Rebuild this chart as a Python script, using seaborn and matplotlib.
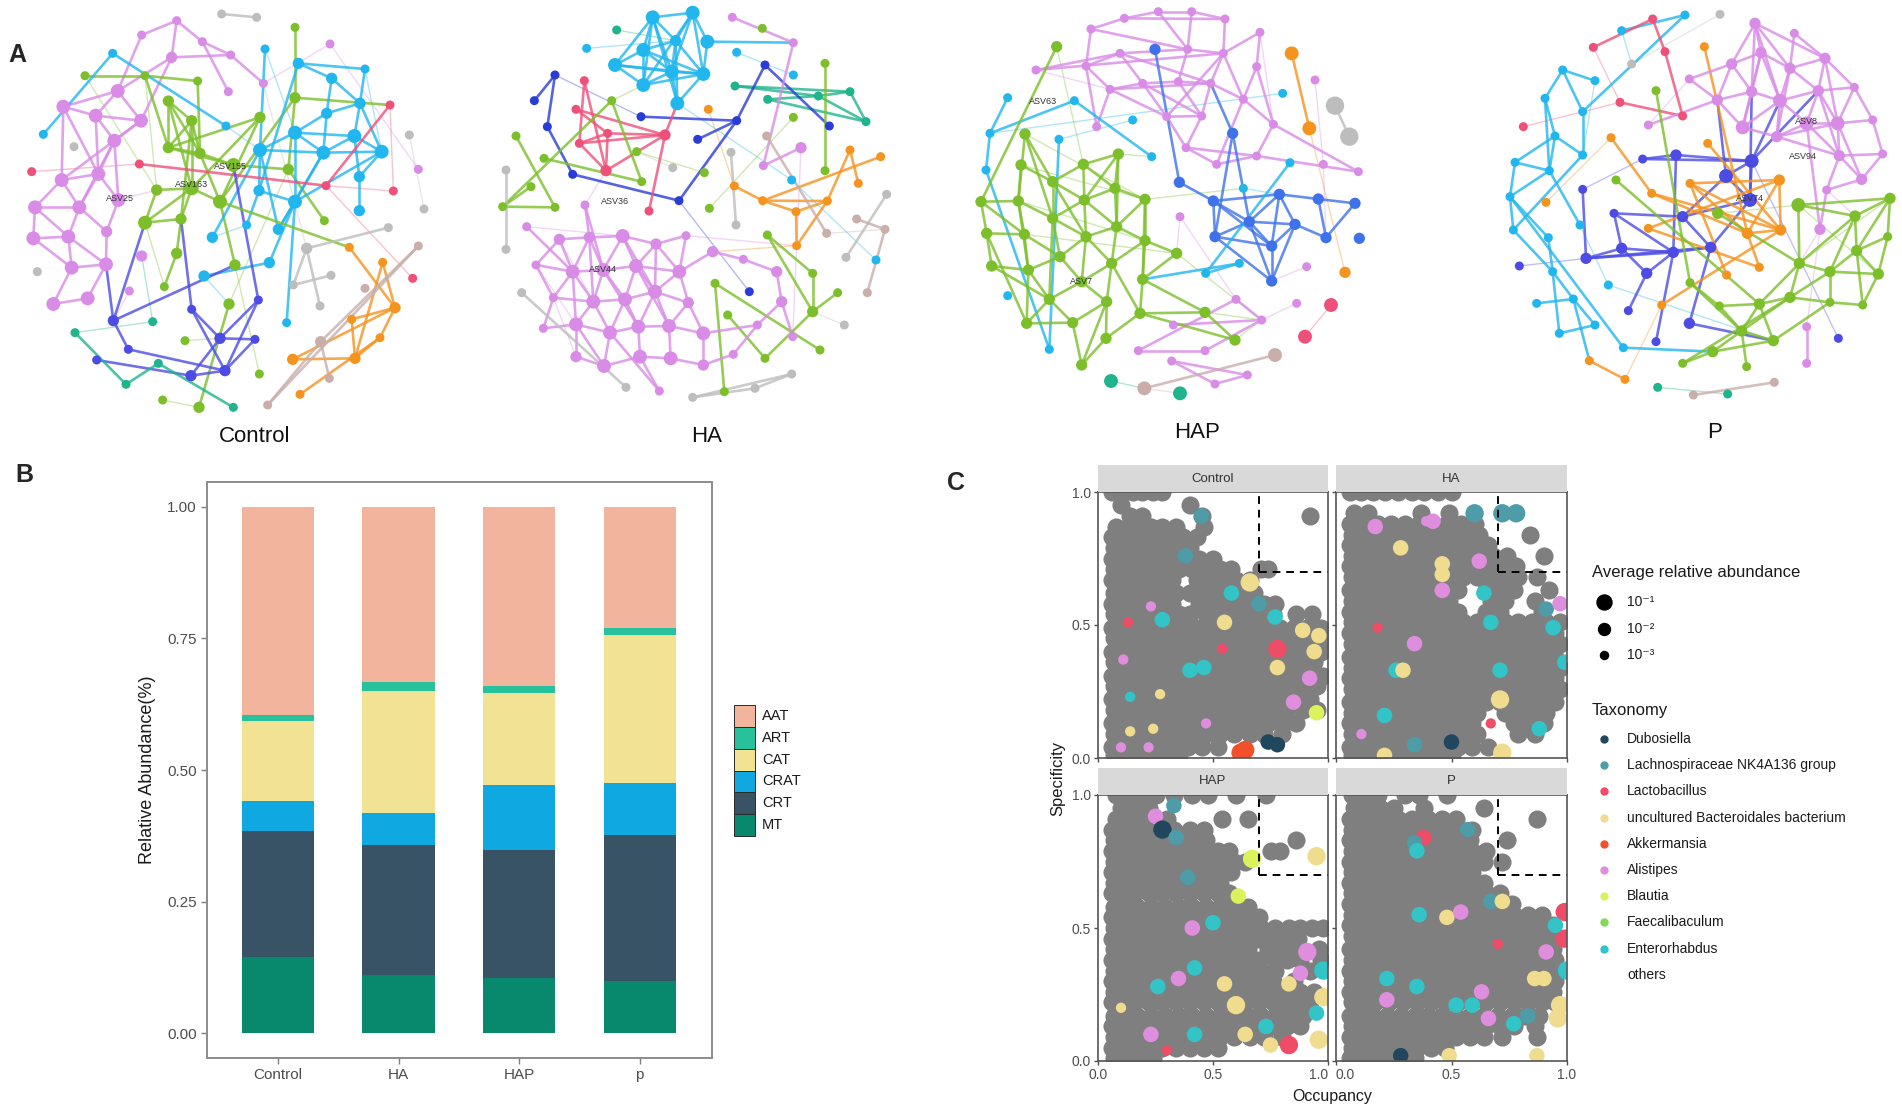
import pandas as pd
import seaborn as sns
import matplotlib.pyplot as plt
from matplotlib.collections import LineCollection
from matplotlib.patches import Rectangle
from matplotlib.lines import Line2D

# ---------------- panel B: stacked relative abundance ----------------
groups = ["Control", "HA", "HAP", "p"]
types = ["AAT", "ART", "CAT", "CRAT", "CRT", "MT"]
aat = [0.395, 0.333, 0.340, 0.231]
art = [0.012, 0.017, 0.014, 0.013]
cat = [0.152, 0.232, 0.174, 0.280]
crat = [0.057, 0.061, 0.125, 0.099]
crt = [0.239, 0.247, 0.242, 0.278]
mt = [0.145, 0.110, 0.105, 0.099]
type_colors = ["#F2B49C", "#27C29C", "#F2E394", "#10A8E0", "#385266", "#08896E"]

# ---------------- panel C: occupancy / specificity ----------------
taxa_codes = {
    "D": "Dubosiella",
    "L": "Lachnospiraceae NK4A136 group",
    "A": "Lactobacillus",
    "U": "uncultured Bacteroidales bacterium",
    "K": "Akkermansia",
    "S": "Alistipes",
    "B": "Blautia",
    "F": "Faecalibaculum",
    "E": "Enterorhabdus",
}
taxa_colors = {
    "Dubosiella": "#21475E",
    "Lachnospiraceae NK4A136 group": "#4E9CA8",
    "Lactobacillus": "#EF4C68",
    "uncultured Bacteroidales bacterium": "#F0DC8E",
    "Akkermansia": "#F2502A",
    "Alistipes": "#DE8EDC",
    "Blautia": "#DCF25C",
    "Faecalibaculum": "#80DB55",
    "Enterorhabdus": "#33C4C8",
}
abund_labels = ["10⁻¹", "10⁻²", "10⁻³"]
facets = ["Control", "HA", "HAP", "P"]

# "others" ASVs, one line per specificity level (percent): occupancy values (percent)
control_grey = """
100: 6 10 15 19 24 28
95: 10 40
91: 14 19 45 92
87: 8 13 18 23 28 34 46
83: 6 11 16 21 26 31 37 43
79: 7 12 18 23 29 34 40
75: 6 11 16 22 27 33 38 44 50
71: 7 12 17 23 29 35 41 47 53 58 71 74
67: 6 11 16 22 27 32 43 49 55 60 66
62: 7 12 18 23 29 34 40 46 52 58 63 68
58: 6 11 16 22 27 32 44 50 55 61 66 72 77
54: 7 12 17 23 29 35 40 47 53 58 64 70 76 86 93
49: 6 11 16 21 27 33 38 44 50 56 62 67 73 79 85 91 97
45: 7 12 18 24 30 35 41 47 53 59 64 70 76 82 88 94 99
40: 6 11 16 22 27 33 39 44 50 56 61 67 73 79 85 91 97
36: 7 12 17 23 29 35 41 47 52 58 64 70 76 82 88 94
31: 6 11 16 21 27 33 38 44 50 56 62 68 74 80 86 92 98
27: 7 12 18 24 30 35 41 47 53 59 65 71 77 83 89 95
22: 6 11 16 22 27 33 39 45 51 57 63 68 74 80 86 92
18: 7 12 17 23 29 35 41 47 52 58 64 70 76 82 89 95
13: 6 11 16 21 27 33 38 44 50 56 62 68 74 80 86
9: 7 12 18 24 30 35 41 47 53 59 66 72 80
4: 6 11 16 22 27 33 39 45 52
1: 7 12 18 24 29 35
"""
ha_grey = """
100: 6 11 16 21 27 33 38 44 50
92: 8 14 37 49
88: 6 12 18 24 30 36 42 48 54 60
84: 7 13 19 25 31 37 44 50 56 62 84
80: 6 11 17 23 29 35 41 47 54 60 66
76: 7 13 19 25 31 37 43 49 55 62 68 74 90
72: 6 11 17 23 29 35 41 47 53 59 66 72 78
68: 7 13 19 25 31 37 43 49 55 61 67 73 79 87
63: 6 11 17 23 29 35 41 47 53 65 71 77 92
59: 7 13 19 25 31 37 43 49 67 73 86
55: 6 11 17 23 29 35 41 47 53 65 71 89
51: 7 13 19 25 31 37 43 49 55 61 67 73 79 85 91 97
47: 6 11 17 23 29 35 41 47 53 59 65 71 77 83 89 95
43: 7 13 19 25 31 37 43 49 55 61 67 73 79 85 91 97
38: 6 11 17 23 29 35 41 47 53 59 65 71 77 83 89 95
34: 7 13 19 25 31 37 43 49 55 61 67 73 79 85 91 97
30: 6 11 17 23 29 35 41 47 53 59 65 71 77 83 89 95
26: 7 13 19 25 31 37 43 49 55 61 67 73 79 85 91 97
21: 6 11 17 23 29 35 41 47 53 59 65 71 77 83 89 95
17: 7 13 19 25 31 37 43 49 55 61 73 79 85 91
13: 6 11 17 23 29 35 41 47 53 59 77 83 90
9: 7 13 19 25 31 37 43 49 55 61 79 86
4: 6 11 17 23 29 35 41 47 53 59 66
1: 7 13 19 25 31 37 44 50
"""
hap_grey = """
100: 8 13 19 25 33 41 48 60 73
95: 10 16 22
91: 8 13 18 24 30 54 65
87: 6 11 16 21 27 33 40 46
83: 7 12 17 23 29 35 41 47 86
79: 6 11 16 22 28 34 40 46 52 57 75 79
75: 7 12 17 23 29 35 41 47 53 59 64
71: 6 11 16 22 28 34 40 46 52 58
67: 7 12 17 23 29 35 41 47 53
63: 6 11 16 22 28 34 40 46 52 57
58: 7 12 17 23 29 35 41 47 53 59 65
54: 6 11 16 22 28 34 40 46 52 58 64 70
50: 7 12 17 23 29 35 41 47 53 59 65 71 77 83 88 93 98
46: 6 11 16 22 28 34 40 46 52 58 64 70 76 81 87
42: 7 12 17 23 29 35 41 47 53 59 65 74 80 86 96
38: 6 11 16 22 28 34 40 46 52 58 64 70 77 82 88 97
34: 7 12 17 23 29 35 41 47 53 59 65 71 77 92
30: 6 11 16 22 28 34 40 46 52 58 64 70 76 85
26: 7 12 17 23 29 35 41 47 53 59 65 71 77 82 88 94
22: 6 11 16 22 28 34 40 46 52 58 64 70 76 81 87 92
17: 7 12 17 23 29 35 41 47 53 59 65 71 77 83 89
13: 6 11 16 22 28 34 40 46 52 58 64 70 76 82 88
9: 7 12 17 23 29 35 41 47 53 59 66 72 80
5: 6 11 16 22 28 34 40 46 52
1: 7 12 18 24
"""
p_grey = """
100: 7 12 18 30 36 48
95: 8 13 19 25 38 64
91: 6 11 16 21 27 33 40 46 52 87
87: 7 12 17 23 29 35 41 47 53 59
83: 6 11 16 22 28 34 40 46 52 58 74
79: 7 12 17 23 29 35 41 47 53 59 65
75: 6 11 16 22 28 34 40 46 52 58 64 72
71: 7 12 17 23 29 35 41 47 53 59
67: 6 11 16 22 28 34 40 46 52 58 64
63: 7 12 17 23 29 35 41 47 53 59 65 71
59: 6 11 16 22 28 34 40 46 52 58 64 70 76
55: 7 12 17 23 29 35 41 47 53 59 65 71 77 83 89
51: 6 11 16 22 28 34 40 46 52 58 64 70 76 82 88 94
47: 7 12 17 23 29 35 41 47 53 59 65 71 77 83 89 95
42: 6 11 16 22 28 34 40 46 52 58 64 70 76 82 88 94
38: 7 12 17 23 29 35 41 47 53 59 65 71 77 83 89 95
34: 6 11 16 22 28 34 40 46 52 58 64 70 76 82 88 94
30: 7 12 17 23 29 35 41 47 53 59 65 71 77 83 89 95
26: 6 11 16 22 28 34 40 46 52 58 64 70 76 82 88 94
22: 7 12 17 23 29 35 41 47 53 59 65 71 77 83 89 95
17: 6 11 16 22 28 34 40 46 52 58 64 70 76 82 88
13: 7 12 17 23 29 35 41 47 53 59 65 71 77 86
9: 6 11 16 22 28 34 40 46 52 58 64 72 87
5: 7 12 17 23 29 35 41 47
1: 6 11 16 22 28 34
"""

# named taxa: code, occupancy %, specificity %, abundance class (3 = 10^-1 ... 1 = 10^-3)
control_taxa = """
L 45 91 2
L 38 76 2
E 28 52 2
A 13 51 1
S 23 57 1
E 58 62 2
L 70 58 2
U 66 66 3
U 55 51 2
E 77 53 2
A 78 41 3
U 78 34 2
A 54 41 1
E 46 34 2
E 14 23 1
S 11 37 1
U 27 24 1
S 85 21 2
B 95 17 2
U 89 48 2
U 94 40 2
S 92 30 2
K 62 2 3
K 64 3 3
D 74 6 2
D 78 5 2
S 10 4 1
S 22 4 1
U 14 10 1
U 24 11 1
S 47 13 1
E 40 33 2
U 96 46 2
"""
ha_taxa = """
L 60 92 3
L 72 92 3
L 78 92 3
S 42 89 2
S 39 89 1
S 17 87 2
U 28 79 2
U 46 73 2
U 46 69 2
S 62 74 2
S 46 63 2
E 64 62 2
L 91 56 2
S 97 58 2
E 67 51 2
E 94 49 2
S 34 43 2
E 26 33 2
U 29 33 2
E 71 33 2
U 71 22 3
E 88 11 2
E 21 16 2
S 11 9 1
U 21 1 2
U 72 2 3
D 50 6 2
A 18 49 1
A 67 13 1
E 99 36 2
L 34 5 2
"""
hap_taxa = """
S 25 92 2
D 28 87 3
L 33 96 2
L 34 84 2
B 67 76 3
U 95 77 3
B 61 62 2
L 39 69 2
S 41 50 2
E 50 52 2
S 91 41 3
E 42 35 2
S 35 31 2
E 26 28 2
U 55 29 2
U 83 29 2
E 98 34 3
S 88 33 2
U 60 21 3
U 98 24 3
E 73 13 2
U 64 10 2
A 83 6 3
U 75 6 2
U 96 8 3
E 95 18 2
S 23 10 2
U 10 20 1
A 30 4 1
E 42 10 2
"""
p_taxa = """
A 38 84 2
L 57 87 2
L 34 82 2
E 35 79 2
E 36 55 2
U 48 54 2
S 54 56 2
L 67 60 2
U 72 60 2
A 99 56 3
A 99 46 3
E 95 51 2
S 91 41 2
E 100 34 3
U 86 31 2
U 90 31 2
S 63 26 2
E 22 31 2
S 22 23 2
E 59 21 2
E 77 14 2
L 83 17 2
S 66 16 2
U 97 21 3
U 96 16 3
U 49 2 2
U 87 2 2
D 28 2 2
E 35 28 2
A 70 44 1
E 52 21 2
"""

# ---------------- panel A: co-occurrence networks ----------------
# node id (letters = module), layout x, layout y, weight
control_nodes = """
v1 530 62 1
v2 425 105 1
v3 515 172 2
v4 607 125 1
v5 692 165 1
v6 685 275 1
v7 790 250 1
v8 353 273 3
v9 190 320 3
v10 287 347 3
v11 423 362 3
v12 343 422 3
v13 185 540 3
v14 295 522 3
v15 355 600 3
v16 105 622 3
v17 238 622 3
v18 100 715 3
v19 205 710 3
v20 320 695 2
v21 215 803 3
v22 318 793 3
v23 425 768 2
v24 160 912 3
v25 263 895 3
v26 388 873 1
v27 990 132 1
v28 1255 508 1
g1 885 82 1
g2 255 227 1
g3 435 227 1
g4 593 243 1
g5 505 303 2
g6 575 362 2
g7 885 293 2
g8 780 352 2
g9 505 443 2
g10 600 460 2
g11 700 495 3
g12 865 508 2
g13 575 565 3
g14 470 570 2
g15 660 605 3
g16 435 668 3
g17 543 657 2
g18 973 662 1
g19 530 760 2
g20 705 795 2
g21 493 860 1
g22 687 912 2
g23 555 1022 1
g24 597 1222 2
g25 488 1200 1
g26 778 1122 1
c1 338 160 1
c2 130 403 1
c3 678 378 1
c4 795 147 1
c5 895 190 2
c6 995 235 2
c7 1095 207 1
c8 980 340 2
c9 1080 310 2
c10 885 398 3
c11 780 450 3
c12 970 458 3
c13 1063 408 3
c14 1145 455 3
c15 777 572 2
c16 885 605 3
c17 1078 530 2
c18 1078 632 2
c19 835 688 2
c20 740 675 1
c21 637 712 2
c22 808 788 2
c23 612 828 2
c24 860 968 1
r1 95 515 1
r2 418 492 1
r3 1170 315 1
r4 978 557 1
r5 1180 573 1
r6 1238 835 1
b1 340 962 2
b2 385 1048 1
b3 290 1080 1
b4 575 928 1
b5 775 900 1
b6 660 1015 2
b7 765 1018 1
b8 675 1112 2
b9 573 1127 2
t1 225 998 1
t2 458 965 1
t3 378 1153 1
t4 475 1090 1
t5 700 1222 1
o1 1048 742 1
o2 1148 787 1
o3 1185 923 2
o4 1055 958 1
o5 1140 1013 1
o6 1065 1075 2
o7 878 1078 2
o8 900 1183 1
n1 1255 738 1
n2 1095 865 1
n3 962 1025 2
n4 988 1135 1
n5 803 1215 1
e1 665 42 1
e2 770 52 1
e3 222 440 1
e4 112 815 1
e5 1228 405 1
e6 1272 627 1
e7 920 745 2
e8 1165 683 1
e9 880 855 1
e10 993 826 1
e11 960 918 1
"""
control_edges = """
v1-v2 v1-v3 v1-v4 v3-v5 v4-v5 v4-v6 v5-v7 v3-v8 v2-v8 v8-v9 v8-v10 v9-v10 v10-v11 v8-v11
v10-v12 v11-v12 v9-v13 v10-v14 v12-v14 v13-v14 v13-v16 v14-v17 v13-v17 v16-v17 v14-v15
v16-v18 v17-v19 v18-v19 v17-v20 v19-v21 v20-v22 v21-v22 v18-v21 v21-v24 v22-v25 v24-v25
v16-v19 v19-v22 v15-v20 v12-v15 v9-v14 v12-v17 v11-v13 v3-v11
g2-g3 g3-g4 g3-g9 g4-g10 g5-g6 g5-g9 g5-g13 g6-g9 g6-g10 g6-g13 g1-g7 g7-g12 g7-g15 g8-g9
g8-g15 g9-g10 g10-g11 g11-g12 g9-g11 g12-g18 g13-g14 g13-g16 g13-g15 g14-g16 g13-g17
g16-g17 g15-g20 g17-g19 g19-g21 g10-g15 g22-g24 g6-g17 g8-g13 g5-g10 g7-r3
c1-c2 c1-c3 c4-c11 c5-c6 c5-c7 c5-c15 c6-c9 c6-c8 c7-c9 c8-c9 c8-c10 c8-c12 c9-c13 c9-c14
c10-c11 c10-c12 c10-c13 c11-c12 c12-c13 c13-c14 c12-c14 c11-c15 c10-c16 c12-c16 c13-c17
c14-c17 c17-c18 c16-c19 c15-c20 c16-c22 c11-c21 c22-c23 c16-c24 c12-c19 c14-c16 c11-c19
c15-c16 r3-r4 r2-r4
b1-b2 b1-g16 b1-v22 b1-g20 b2-b8 b3-b9 b4-b6 b4-b8 b5-b8 b5-b6 b6-b7 b6-b9 b7-b8 b8-b9
b5-g11 b4-g17 t1-t3 t3-t4 t4-t5
o1-o3 o2-o3 o3-o4 o3-o5 o5-o6 o6-o7 o7-o3 o8-o5 o2-o6 g15-o1 o4-o6
n1-n3 n3-n4 n3-n5 n1-n5 e1-e2 e7-e8 e7-e9 e9-e10 e7-e11
"""
control_light = """
r1-r2 r4-r5 r4-r6 r3-r5 t1-t2 t2-v23 e5-e6 v27-v28 v7-v27 e7-v7 g3-g14 g12-g22 g23-b6
g25-g24 g26-g20 c4-c10 c3-c11 c7-c14 g16-g21 v15-g14 v26-b1 c23-g22 c21-c20 g2-g14
"""
control_labels = [("ASV155", 692, 500), ("ASV163", 575, 553), ("ASV25", 360, 595)]

ha_nodes = """
c1 548 52 3
c2 668 38 3
c3 350 145 1
c4 520 150 3
c5 617 122 2
c6 712 125 3
c7 435 195 3
c8 520 255 3
c9 605 215 3
c10 700 222 3
c11 622 310 3
c12 800 157 1
c13 970 225 1
c14 965 540 1
c15 1218 780 1
t1 440 90 1
t2 795 258 1
t3 893 298 1
t4 1045 288 1
t5 1140 275 1
t6 1188 365 1
b1 255 225 1
b2 193 302 1
b3 232 380 1
b4 308 523 1
b5 627 602 1
b6 513 350 1
b7 683 418 1
b8 800 362 1
b9 885 195 1
b10 1078 378 1
b11 838 875 1
r1 343 242 1
r2 318 328 1
r3 328 430 1
r4 413 400 1
r5 408 512 2
r6 585 405 2
r7 537 633 1
g1 138 408 1
g2 222 475 1
g3 183 560 1
g4 98 620 1
g5 255 622 1
g6 425 302 1
g7 500 455 1
g8 515 545 1
g9 703 518 1
g10 718 625 1
g11 970 352 1
g12 877 85 1
g13 1065 190 1
g14 1065 512 1
g15 892 705 1
g16 735 850 1
g17 773 945 1
g18 885 1075 1
g19 1028 820 1
g20 1028 935 2
g21 1103 878 1
g22 1050 1050 1
g23 763 1175 1
o1 715 328 1
o2 793 558 1
o3 878 602 1
o4 978 635 1
o5 980 737 1
o6 1072 603 1
o7 1140 450 1
o8 1165 550 1
o9 1232 470 1
v1 345 615 1
v2 170 680 1
v3 268 718 2
v4 358 712 2
v5 458 708 3
v6 558 732 2
v7 648 707 1
v8 198 795 1
v9 308 815 3
v10 400 810 3
v11 498 798 3
v12 628 815 3
v13 250 893 1
v14 370 905 3
v15 465 898 3
v16 555 875 3
v17 655 908 2
v18 220 985 1
v19 318 973 3
v20 420 998 3
v21 505 980 3
v22 597 978 3
v23 700 1000 3
v24 318 1070 2
v25 402 1098 3
v26 510 1070 3
v27 602 1075 3
v28 700 1095 2
v29 568 1173 1
v30 728 755 2
v31 820 778 1
v32 920 815 2
v33 935 905 2
v34 862 975 1
v35 790 1063 1
v36 968 1010 1
v37 787 52 1
v38 970 128 1
v39 880 497 1
v40 993 443 2
e1 108 510 1
e2 108 748 1
e3 155 878 1
e4 468 1162 1
e5 608 503 1
e6 783 457 1
e7 798 675 1
e8 1128 772 1
e9 1250 583 1
e10 1123 975 1
e11 668 1192 1
e12 855 1165 1
e13 965 1122 1
n1 890 408 1
n2 1070 700 1
n3 1160 657 1
n4 1245 688 1
n5 1192 878 1
"""
ha_edges = """
c1-c2 c1-c4 c1-c5 c1-c7 c1-c9 c1-c11 c2-c5 c2-c6 c2-c9 c2-c10 c2-c8 c4-c5 c4-c7 c4-c8 c4-c9
c5-c9 c5-c10 c5-c11 c7-c8 c7-c9 c8-c9 c8-c10 c9-c10 c9-c11 c10-c11 c6-c10 c6-v38 c4-c10
c7-c10 c1-c8 t2-t4 t2-t5 t3-t4 t3-t6 t4-t5 t5-t6 t4-t6
b1-b3 b3-b4 b4-b5 b5-b8 b6-b8 b7-b8 b8-b9 b9-b10 b1-b2
r1-r3 r1-r5 r2-r4 r2-r6 r3-r4 r3-r5 r4-r5 r4-r6 r5-r6 r6-r7 r3-r6 r6-c11
g1-g5 g4-g5 g4-g6 g6-g8 g2-g8 g13-g14 g15-g19 g19-g20 g20-g21 g15-g20 g16-g22 g17-g18
g18-g20 g16-g23 g3-g4
o2-o3 o3-o6 o3-o4 o4-o5 o4-o6 o6-o7 o7-o8 o3-o9 o5-o6
v1-v4 v1-v10 v2-v9 v3-v4 v3-v9 v3-v8 v4-v5 v4-v10 v4-v9 v5-v6 v5-v11 v5-v10 v6-v7 v6-v12
v6-v11 v7-v12 v8-v9 v8-v13 v9-v10 v9-v14 v9-v13 v10-v11 v10-v14 v10-v15 v11-v12 v11-v15
v11-v16 v12-v16 v12-v17 v13-v14 v13-v18 v14-v15 v14-v19 v14-v20 v15-v16 v15-v20 v15-v21
v16-v17 v16-v22 v16-v21 v17-v22 v17-v23 v18-v19 v19-v20 v19-v24 v19-v25 v20-v21 v20-v25
v21-v22 v21-v26 v22-v23 v22-v27 v23-v28 v24-v25 v25-v26 v26-v27 v27-v28 v26-v29 v20-v29
v12-v30 v30-v31 v31-v32 v32-v33 v33-v34 v23-v34 v34-v35 v28-v35 v33-v36 v37-v38 v38-v39
v39-v40 v5-v16 v4-v14 v10-v21 v11-v22 v9-v19 v6-v16
e1-e2 e3-e4 e6-e7 e9-e8 e11-e12 e11-e13 e12-e13 n1-n2 n3-n4 n4-n5
"""
ha_light = """
c3-c5 c12-c13 c11-c14 c14-c15 t1-c5 b5-b11 b1-b6 g10-g11 g7-g9 o1-o2 v40-v36 g6-c8 n2-n4
v2-v5 v1-r5 e10-g20 e5-g7 v7-o5 o5-v30 v3-v14 v8-v19 v13-v24
"""
ha_labels = [("ASV36", 435, 605), ("ASV44", 400, 808)]

hap_nodes = """
v1 493 55 1
v2 595 35 1
v3 695 35 1
v4 795 57 1
v5 393 87 1
v6 900 97 1
v7 228 210 1
v8 378 198 1
v9 480 160 1
v10 683 148 1
v11 790 160 1
v12 890 200 1
v13 450 268 1
v14 548 250 1
v15 655 245 1
v16 752 250 1
v17 620 350 1
v18 725 348 1
v19 850 298 1
v20 940 373 1
v21 410 380 1
v22 678 443 1
v23 770 493 1
v24 890 468 1
v25 1065 240 1
v26 1090 493 1
v27 1195 515 1
v28 660 650 1
v29 1040 800 1
v30 1010 910 1
v31 828 898 1
v32 640 975 1
v33 905 960 1
v34 535 1052 1
v35 735 1052 1
v36 635 1083 1
v37 862 1125 1
v38 765 1152 1
b1 585 148 2
b2 818 400 2
b3 658 547 2
b4 760 603 2
b5 958 583 2
b6 1075 597 2
b7 1185 610 2
b8 868 665 2
b9 1005 673 2
b10 765 710 2
b11 935 738 2
b12 1098 713 2
b13 1198 715 2
b14 935 843 2
c1 143 293 1
c2 90 400 1
c3 343 302 1
c4 78 510 1
c5 297 418 1
c6 518 360 1
c7 575 470 1
c8 968 280 1
c9 990 488 1
c10 850 565 1
c11 838 790 1
c12 737 820 1
c13 143 887 1
c14 268 1048 1
g1 290 140 2
g2 195 402 2
g3 475 462 2
g4 183 495 2
g5 370 493 2
g6 278 545 2
g7 465 565 2
g8 63 605 2
g9 175 603 2
g10 373 600 2
g11 555 598 2
g12 278 655 2
g13 470 680 2
g14 80 700 2
g15 193 703 2
g16 378 710 2
g17 555 722 2
g18 650 760 2
g19 300 770 2
g20 455 790 2
g21 95 798 2
g22 205 810 2
g23 548 838 2
g24 365 845 2
g25 268 898 2
g26 440 905 2
g27 540 940 2
g28 735 937 2
g29 200 970 2
g30 338 968 2
g31 438 1015 2
g32 825 1020 2
g33 365 1095 2
o1 995 160 3
o2 1048 385 3
o3 1155 817 2
e1 1125 317 4
e2 1168 410 4
r1 1113 915 3
r2 1035 1010 3
n1 945 1065 3
n2 553 1165 3
t1 453 1143 3
t2 660 1180 3
"""
hap_edges = """
v1-v2 v2-v3 v3-v4 v1-v4 v1-v5 v5-v8 v2-v10 v3-v10 v4-v11 v6-v11 v6-v12 v7-v9 v8-v9 v9-v10
v10-v11 v8-v13 v9-v14 v10-v15 v11-v16 v13-v14 v14-v15 v15-v16 v13-v17 v14-v17 v15-v18
v16-v18 v17-v18 v11-v19 v12-v19 v19-v20 v18-v22 v17-v22 v19-v23 v22-v23 v20-v24 v23-v24
v21-v8 v12-v20 v11-v17 v16-v19 v24-v27 v7-v11 v5-v10 v9-v16 v13-v16 v14-v18 v21-v13 v22-v24
v31-v33 v32-v33 v34-v35 v36-v37 v36-v38 v37-v38 v34-v31 v35-v33 v20-v27
b1-b3 b2-b8 b2-b10 b4-b8 b4-b10 b4-b5 b5-b8 b5-b9 b5-b11 b5-b6 b6-b7 b6-b12 b8-b9 b8-b10
b8-b11 b9-b11 b9-b12 b10-b11 b10-b14 b11-b14 b9-b14 b4-b11 b8-b14 b3-b4 b7-b12 b2-v16
c1-c2 c2-c3 c3-c7 c4-c14 c4-c2 c9-c12 c12-c11 c11-g23 c5-c14
g1-g8 g2-g6 g2-g9 g2-g12 g3-g5 g3-g7 g3-g10 g3-g13 g4-g6 g4-g9 g5-g6 g5-g10 g5-g7 g6-g10
g6-g12 g6-g16 g7-g10 g7-g11 g7-g13 g8-g9 g8-g14 g8-g15 g9-g12 g9-g15 g10-g12 g10-g13
g10-g16 g11-g13 g11-g17 g12-g16 g12-g19 g13-g16 g13-g17 g13-g20 g14-g15 g14-g21 g15-g19
g15-g22 g16-g19 g16-g20 g16-g24 g17-g18 g17-g23 g17-g20 g18-g23 g19-g22 g19-g24 g20-g24
g20-g26 g21-g22 g21-g25 g22-g25 g22-g29 g23-g27 g23-g28 g24-g25 g24-g26 g25-g29 g25-g30
g26-g30 g26-g31 g27-g31 g27-g28 g28-g32 g29-g30 g30-g33 g31-g33 g26-g33 g14-g29 g11-g23
g20-g27 g9-g22 g12-g25 g27-g32
o1-o2 e1-e2 n1-n2
"""
hap_light = """
r1-r2 o2-o3 t1-n2 n2-t2 c5-c6 c8-c2 c10-b5 g3-c7 v28-v31 v29-b14 v26-b12 v30-v33 v25-v26
g11-c10 g18-v33 v28-g18 g28-v33 g32-v33 g2-g11 g4-g11 g9-g17 g15-g18 g1-g5 v7-v13 v6-v20
"""
hap_labels = [("ASV63", 250, 305), ("ASV7", 365, 845)]

p_nodes = """
c1 675 45 1
c2 485 92 1
c3 308 210 1
c4 405 242 1
c5 255 295 1
c6 368 335 1
c7 285 408 1
c8 368 465 1
c9 165 487 1
c10 268 512 1
c11 150 590 1
c12 360 675 1
c13 160 690 1
c14 265 713 1
c15 278 815 1
c16 445 855 1
c17 230 910 1
c18 340 897 1
c19 298 1000 1
c20 405 975 1
c21 490 1043 1
r1 400 142 1
r2 578 57 1
r3 615 155 1
r4 480 307 1
r5 668 348 1
r6 190 380 1
e1 780 43 1
e2 515 192 1
v1 885 70 2
v2 1003 100 1
v3 903 158 2
v4 815 192 2
v5 990 205 2
v6 1095 175 2
v7 688 237 1
v8 875 275 2
v9 960 302 3
v10 1075 272 2
v11 1183 262 1
v12 772 300 2
v13 848 382 3
v14 950 410 2
v15 1040 370 3
v16 1133 370 3
v17 1238 360 1
v18 565 375 1
v19 1138 467 2
v20 1268 462 1
v21 1205 538 2
v22 1100 570 1
v23 1080 688 2
v24 1040 980 1
v25 1040 1090 1
b1 548 477 1
b2 648 465 2
b3 875 483 3
b4 798 528 3
b5 870 600 3
b6 368 568 1
b7 462 640 1
b8 668 650 2
b9 378 775 2
b10 485 745 2
b11 640 757 2
b12 752 742 2
b13 560 820 2
b14 505 932 1
b15 588 1025 1
b16 688 970 2
b17 178 798 1
b18 1135 1015 1
o1 733 140 1
o2 453 413 1
o3 743 430 1
o4 258 607 1
o5 690 550 1
o6 575 580 1
o7 958 540 2
o8 565 685 1
o9 862 700 2
o10 962 690 2
o11 898 802 1
o12 800 825 1
o13 605 915 1
o14 388 1082 1
o15 495 1138 1
g1 588 272 1
g2 468 540 1
g3 773 640 2
g4 1015 615 3
g5 1290 595 2
g6 1185 648 2
g7 1283 710 1
g8 1190 752 2
g9 1018 790 2
g10 1110 815 2
g11 1255 822 2
g12 690 848 1
g13 990 892 2
g14 898 912 2
g15 1110 907 1
g16 1208 915 1
g17 778 918 1
g18 845 993 2
g19 940 1022 2
g20 758 1055 2
g21 668 1090 1
g22 860 1100 1
t1 593 1162 1
t2 803 1182 1
n1 700 1185 1
n2 943 1147 1
"""
p_edges = """
c1-c2 c1-c6 c3-c5 c3-c6 c5-c7 c6-c8 c7-c8 c7-c9 c7-c10 c9-c10 c9-c11 c10-c11 c11-c13
c11-c14 c13-c15 c14-c15 c15-c18 c15-c19 c17-c18 c18-c20 c19-c20 c11-c21 c21-g20 c10-c12
c5-c10 c8-c13 c3-c4 r1-r2 r2-r3 r3-r5 r4-r5
b1-b2 b1-b3 b2-b3 b3-b4 b3-b5 b4-b5 b2-b11 b6-b9 b7-b8 b7-b10 b7-b11 b9-b10 b9-b11 b10-b11
b10-b13 b11-b13 b11-b12 b8-b12 b13-b14 b11-b15 b12-b16 b3-v10 b5-v8 b12-b5 b4-b8 b9-b12
b16-g19 b5-b8 b3-v9 b4-v12
o1-o9 o3-o10 o5-o9 o5-o7 o6-o10 o7-o9 o7-o10 o9-o10 o8-o7 o8-o11 o5-o12 o13-o10 o14-o15
c18-o14 o2-o6 o6-o9 o5-o10 o11-o9
v1-v3 v1-v4 v1-v5 v1-v6 v1-v8 v1-v9 v2-v6 v3-v4 v3-v5 v3-v8 v3-v9 v4-v7 v4-v8 v4-v12 v5-v6
v5-v9 v5-v10 v6-v10 v6-v11 v7-v12 v8-v9 v8-v12 v8-v13 v9-v10 v9-v14 v9-v15 v10-v11 v10-v15
v10-v16 v11-v16 v11-v17 v12-v13 v13-v14 v14-v15 v15-v16 v16-v17 v14-v19 v15-v19 v16-v19
v16-v21 v17-v20 v19-v20 v19-v21 v20-v21 v21-v22 v19-v22 v22-v23 v15-v23 v13-v3 v18-v12
v24-v25 v6-v16 v5-v14 v9-v13 v10-v19 v2-v5 v14-v16
g1-g12 g2-g14 g3-g9 g4-g5 g4-g6 g4-g9 g5-g6 g5-g7 g5-g8 g6-g8 g6-g10 g7-g8 g7-g11 g8-g10
g8-g11 g8-g16 g9-g10 g9-g13 g9-g14 g10-g13 g10-g15 g10-g11 g11-g16 g13-g14 g13-g15 g13-g18
g14-g17 g14-g18 g14-g19 g15-g16 g17-g18 g18-g19 g18-g20 g19-g20 g20-g21 g18-g22 g12-g17
g12-g18 g21-g13 g19-g15 g6-g9 n1-n2
"""
p_light = """
r1-r4 r6-r4 e1-e2 t1-t2 o4-o2 o15-o13 b17-b9 b18-b3 v24-v23 c16-g19 b6-b1 v7-v18 c2-e2
c4-c8 c12-c16 g4-g11 g5-g9 g3-g4 v22-g6 v23-g9
"""
p_labels = [("ASV8", 1040, 365), ("ASV94", 1030, 470), ("ASV74", 870, 595)]

module_colors = {"v": "#D98CE6", "g": "#7CBF2A", "c": "#21B6EE", "r": "#EF507A", "b": "#4C4CE4",
                 "t": "#1FB48B", "o": "#F5931F", "n": "#C9AEAA", "e": "#BDBDBD"}
blue_by_network = {"Control": "#4C4CE4", "HA": "#2A3CD6", "HAP": "#3F72EA", "P": "#4C4CE4"}


def parse_nodes(txt):
    rows = []
    for line in txt.strip().splitlines():
        nid, x, y, w = line.split()
        rows.append((nid, float(x), float(y), int(w), nid.rstrip("0123456789")))
    df = pd.DataFrame(rows, columns=["id", "x", "y", "w", "module"])
    return df.set_index("id", drop=False)


def parse_edges(txt):
    return [tuple(tok.split("-")) for tok in txt.split()]


def parse_grey(txt):
    xs, ys = [], []
    for line in txt.strip().splitlines():
        yv, rest = line.split(":")
        for xv in rest.split():
            xs.append(float(xv) / 100)
            ys.append(float(yv) / 100)
    return pd.DataFrame({"Occupancy": xs, "Specificity": ys})


def parse_taxa(txt):
    rows = [line.split() for line in txt.strip().splitlines()]
    return pd.DataFrame({
        "Taxonomy": [taxa_codes[r[0]] for r in rows],
        "Occupancy": [float(r[1]) / 100 for r in rows],
        "Specificity": [float(r[2]) / 100 for r in rows],
        "abund": [int(r[3]) for r in rows],
    })


sns.set_style("white")
plt.rcParams["font.family"] = ["Liberation Sans", "DejaVu Sans"]

W, H = 1902, 1109
fig = plt.figure(figsize=(W / 100, H / 100), dpi=100)


def box(x0, y0, x1, y1):
    return [x0 / W, 1 - y1 / H, (x1 - x0) / W, (y1 - y0) / H]


def fxy(x, y):
    return x / W, 1 - y / H


# ---------------- draw A ----------------
NODE_S = {1: 42, 2: 66, 3: 100, 4: 175}
networks = [
    ("Control", control_nodes, control_edges, control_light, control_labels),
    ("HA", ha_nodes, ha_edges, ha_light, ha_labels),
    ("HAP", hap_nodes, hap_edges, hap_light, hap_labels),
    ("P", p_nodes, p_edges, p_light, p_labels),
]
frames = [(0, 0, 470, 460), (470, 0, 940, 460), (960, 0, 1420, 450), (1460, 0, 1902, 450)]
name_pos = [(255, 437), (707, 437), (1197, 432), (1715, 432)]

for (name, ntxt, etxt, ltxt, labels), fr, npos in zip(networks, frames, name_pos):
    ax = fig.add_axes(box(*fr))
    ax.set_xlim(0, (fr[2] - fr[0]) * 3)
    ax.set_ylim((fr[3] - fr[1]) * 3, 0)
    ax.axis("off")
    nodes = parse_nodes(ntxt)
    cols = dict(module_colors, b=blue_by_network[name])
    for edges, lw, alpha, z in [(parse_edges(ltxt), 1.0, 0.35, 1), (parse_edges(etxt), 1.9, 0.8, 2)]:
        segs = [[(nodes.at[a, "x"], nodes.at[a, "y"]), (nodes.at[b, "x"], nodes.at[b, "y"])] for a, b in edges]
        ecol = [cols[nodes.at[a, "module"]] for a, b in edges]
        ax.add_collection(LineCollection(segs, colors=ecol, linewidths=lw, alpha=alpha, zorder=z))
    sns.scatterplot(data=nodes, x="x", y="y", hue="module", palette=cols, s=nodes["w"].map(NODE_S).values,
                    linewidth=0, legend=False, ax=ax, zorder=3)
    for lab, lx, ly in labels:
        ax.text(lx, ly, lab, fontsize=6.5, color="#333333", ha="center", va="center", zorder=4)
    fig.text(*fxy(*npos), name, fontsize=16, ha="center", va="center", color="#111111")

# ---------------- draw B ----------------
axb = fig.add_axes(box(207, 482, 712, 1058))
layers = [mt, crt, crat, cat, art, aat]
cum = []
running = [0.0] * 4
for layer in layers:
    running = [r + v for r, v in zip(running, layer)]
    cum.append(running)
# draw from the top layer down so lower stacks cover upper ones
for tops, col in zip(reversed(cum), type_colors):
    sns.barplot(x=groups, y=tops, color=col, saturation=1, width=0.6, errorbar=None,
                linewidth=0, order=groups, ax=axb)
axb.set_xlim(-0.59, 3.6)
axb.set_ylim(-0.0475, 1.0475)
axb.set_yticks([0, 0.25, 0.5, 0.75, 1.0])
axb.set_yticklabels(["0.00", "0.25", "0.50", "0.75", "1.00"])
axb.set_xlabel("")
axb.set_ylabel("Relative Abundance(%)", fontsize=13, color="#1a1a1a", labelpad=8)
axb.tick_params(axis="both", length=4, width=1, color="#7f7f7f", labelcolor="#4d4d4d",
                labelsize=11, left=True, bottom=True)
for sp in axb.spines.values():
    sp.set_color("#8c8c8c")
    sp.set_linewidth(1.4)

for i, (t, col) in enumerate(zip(types, type_colors)):
    yc = 716 + i * 21.8
    fig.add_artist(Rectangle(fxy(734, yc + 10.9), 21 / W, 21.8 / H, transform=fig.transFigure,
                             facecolor=col, edgecolor="#2b2b2b", linewidth=0.7))
    fig.text(*fxy(762, yc), t, fontsize=10.5, va="center", ha="left", color="#1a1a1a")

# ---------------- draw C ----------------
SIZE_S = {1: 55, 2: 125, 3: 175}
facet_boxes = [(1098, 492, 1328, 758), (1336, 492, 1567, 758),
               (1098, 795, 1328, 1061), (1336, 795, 1567, 1061)]
greys = [control_grey, ha_grey, hap_grey, p_grey]
named = [control_taxa, ha_taxa, hap_taxa, p_taxa]
for k, (fname, fb, gtxt, ttxt) in enumerate(zip(facets, facet_boxes, greys, named)):
    ax = fig.add_axes(box(*fb))
    g = parse_grey(gtxt)
    t = parse_taxa(ttxt)
    sns.scatterplot(data=g, x="Occupancy", y="Specificity", color="#7F7F7F", s=170,
                    linewidth=0, legend=False, ax=ax)
    sns.scatterplot(data=t, x="Occupancy", y="Specificity", hue="Taxonomy", palette=taxa_colors,
                    s=t["abund"].map(SIZE_S).values, linewidth=0, legend=False, ax=ax)
    ax.plot([0.7, 0.7], [0.7, 1.0], ls=(0, (4, 3)), color="black", lw=1.4)
    ax.plot([0.7, 1.0], [0.7, 0.7], ls=(0, (4, 3)), color="black", lw=1.4)
    ax.set_xlim(0, 1)
    ax.set_ylim(0, 1)
    ax.set_xticks([0, 0.5, 1])
    ax.set_yticks([0, 0.5, 1])
    ax.set_xlabel("")
    ax.set_ylabel("")
    xl = ax.set_xticklabels(["0.0", "0.5", "1.0"] if k >= 2 else [])
    ax.set_yticklabels(["0.0", "0.5", "1.0"] if k % 2 == 0 else [])
    # the shared edge of the two bottom facets: keep "1.0" and "0.0" side by side
    if k == 2:
        xl[-1].set_horizontalalignment("right")
    if k == 3:
        xl[0].set_horizontalalignment("left")
    ax.tick_params(axis="both", length=3, width=1, color="#4d4d4d", labelcolor="#4d4d4d",
                   labelsize=10, left=True, bottom=True, pad=2)
    for sp in ax.spines.values():
        sp.set_color("#555555")
        sp.set_linewidth(1.2)
    fig.add_artist(Rectangle(fxy(fb[0], fb[1]), (fb[2] - fb[0]) / W, 27 / H, transform=fig.transFigure,
                             facecolor="#D9D9D9", edgecolor="none"))
    fig.text(*fxy((fb[0] + fb[2]) / 2, fb[1] - 13.5), fname, fontsize=9.5, ha="center", va="center",
             color="#333333")

fig.text(*fxy(1332, 1097), "Occupancy", fontsize=11.5, ha="center", va="center", color="#1a1a1a")
fig.text(*fxy(1058, 778), "Specificity", fontsize=12, ha="center", va="center", rotation=90,
         color="#1a1a1a")

# legend C
fig.text(*fxy(1592, 573), "Average relative abundance", fontsize=12, ha="left", va="center",
         color="#1a1a1a")
for lab, yy, ms in zip(abund_labels, [602, 629, 655], [10.8, 8.6, 5.8]):
    fig.add_artist(Line2D([1604 / W], [1 - yy / H], marker="o", ms=ms, ls="", color="black",
                          transform=fig.transFigure))
    fig.text(*fxy(1627, yy), "10" + lab[2:], fontsize=10, ha="left", va="center", color="#1a1a1a")
fig.text(*fxy(1592, 710), "Taxonomy", fontsize=12, ha="left", va="center", color="#1a1a1a")
tax_order = list(taxa_colors) + ["others"]
for i, name in enumerate(tax_order):
    yy = 739 + i * 26.2
    if name in taxa_colors:
        fig.add_artist(Line2D([1604 / W], [1 - yy / H], marker="o", ms=5, ls="", color=taxa_colors[name],
                              transform=fig.transFigure))
    fig.text(*fxy(1627, yy), name, fontsize=10, ha="left", va="center", color="#1a1a1a")

# panel letters
for letter, (lx, ly) in zip("ABC", [(17, 55), (24, 475), (956, 483)]):
    fig.text(*fxy(lx, ly), letter, fontsize=18, fontweight="bold", ha="center", va="center")

fig.savefig("out.png", dpi=100)
